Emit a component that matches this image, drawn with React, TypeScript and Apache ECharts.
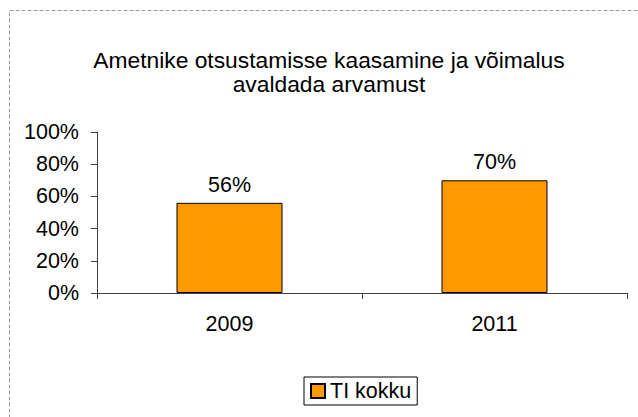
import React, { useEffect, useRef } from "react";
import * as echarts from "echarts";

const categories = ["2009", "2011"];
const seriesName = "TI kokku";
const values = [56, 70];
const titleText = "Ametnike otsustamisse kaasamine ja võimalus\navaldada arvamust";

const FONT = "Liberation Sans, Arial, sans-serif";
const FS = 21.5;

export default function App() {
  const ref = useRef<HTMLDivElement>(null);
  useEffect(() => {
    if (!ref.current) return;
    const chart = echarts.init(ref.current, null, { renderer: "svg" });
    chart.setOption({
      animation: false,
      backgroundColor: "#ffffff",
      textStyle: { fontFamily: FONT },
      title: {
        text: titleText,
        left: 329,
        top: 48,
        padding: 0,
        textAlign: "center",
        textStyle: { fontFamily: FONT, fontSize: 22.8, fontWeight: "normal", color: "#000", lineHeight: 24 },
      },
      graphic: [
        {
          type: "rect",
          shape: { x: 9.5, y: 10.5, width: 700, height: 500 },
          style: { fill: "none", stroke: "#9a9a9a", lineWidth: 1, lineDash: [4, 2] },
          silent: true,
        },
      ],
      legend: {
        data: [seriesName],
        left: 304,
        top: 377,
        padding: [3, 6, 3, 6],
        borderColor: "#000",
        borderWidth: 1,
        itemWidth: 14,
        itemHeight: 14,
        icon: "rect",
        textStyle: { fontFamily: FONT, fontSize: FS, color: "#000" },
      },
      grid: { left: 97, right: 11, top: 132, bottom: 124, containLabel: false },
      xAxis: {
        type: "category",
        data: categories,
        axisLine: { lineStyle: { color: "#404040", width: 1 } },
        axisTick: { show: true, alignWithLabel: false, length: 6, lineStyle: { color: "#404040" } },
        axisLabel: { fontFamily: FONT, fontSize: FS, color: "#000", margin: 20 },
      },
      yAxis: {
        type: "value",
        min: 0,
        max: 100,
        interval: 20,
        axisLine: { show: true, lineStyle: { color: "#404040", width: 1 } },
        axisTick: { show: true, length: 6, lineStyle: { color: "#404040" } },
        splitLine: { show: false },
        axisLabel: { fontFamily: FONT, fontSize: FS, color: "#000", margin: 18, formatter: "{value}%" },
      },
      series: [
        {
          name: seriesName,
          type: "bar",
          data: values,
          barWidth: "40%",
          itemStyle: { color: "#FF9900", borderColor: "#000", borderWidth: 1 },
          label: {
            show: true,
            position: "top",
            distance: 7,
            formatter: "{c}%",
            fontFamily: FONT,
            fontSize: FS,
            color: "#000",
          },
        },
      ],
    });
    return () => chart.dispose();
  }, []);
  return (
    <div
      ref={ref}
      style={{ position: "absolute", left: 0, top: 0, width: 638, height: 417 }}
    />
  );
}
